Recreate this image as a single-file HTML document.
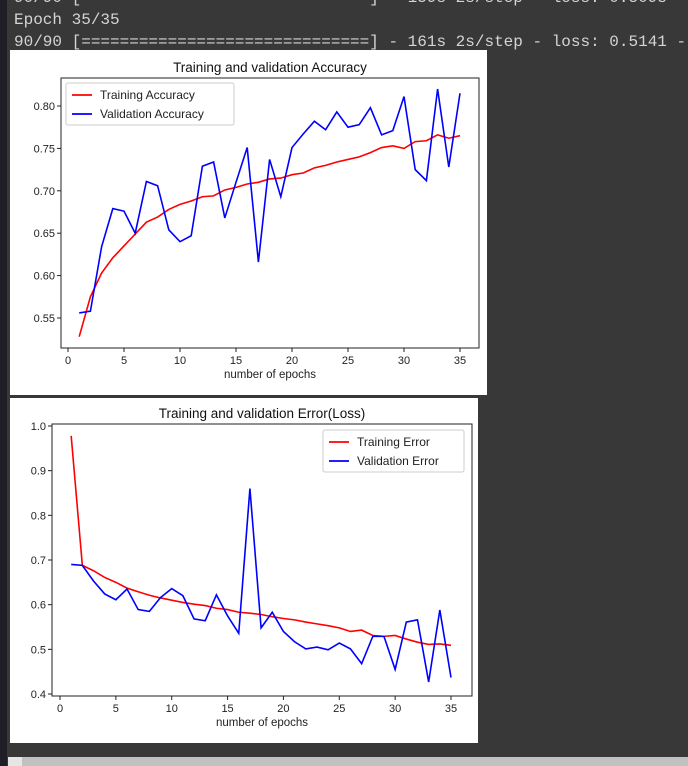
<!DOCTYPE html>
<html><head><meta charset="utf-8"><style>
html,body{margin:0;padding:0;background:#383838;width:688px;height:766px;overflow:hidden;font-family:"Liberation Sans","DejaVu Sans",sans-serif}
#term{position:absolute;left:14px;top:-13px;width:674px;overflow:hidden;font-family:"Liberation Mono",monospace;font-size:16px;color:#d4d4d4;line-height:22px;white-space:pre}
#side{position:absolute;left:0;top:0;width:7px;height:766px;background:#1f1e26}
#scroll{position:absolute;left:8px;top:757px;width:680px;height:9px;background:#c1c1c1}
#sarrow{position:absolute;left:8px;top:757px;width:14px;height:9px;background:#e6e6e6}
svg{position:absolute;left:0;top:0}
</style></head><body>
<div id="side"></div>
<div id="term">90/90 [                              ] - 159s 2s/step - loss: 0.5098
Epoch 35/35
90/90 [==============================] - 161s 2s/step - loss: 0.5141 -</div>
<div id="scroll"></div>
<div id="sarrow"></div>
<svg id="svg" width="688" height="766" xmlns="http://www.w3.org/2000/svg"></svg>
<script>
const epochs=[];for(let i=1;i<=35;i++)epochs.push(i);
const trainAcc=[0.528,0.575,0.603,0.621,0.635,0.649,0.663,0.669,0.678,0.684,0.688,0.693,0.694,0.701,0.704,0.708,0.710,0.714,0.715,0.719,0.721,0.727,0.730,0.734,0.737,0.740,0.745,0.751,0.753,0.750,0.758,0.759,0.766,0.762,0.765];
const valAcc=[0.556,0.558,0.634,0.679,0.676,0.650,0.711,0.706,0.654,0.640,0.647,0.729,0.734,0.668,0.710,0.751,0.616,0.737,0.693,0.751,0.767,0.782,0.772,0.793,0.775,0.778,0.798,0.766,0.771,0.811,0.725,0.712,0.820,0.728,0.815];
const trainErr=[0.978,0.688,0.676,0.661,0.650,0.637,0.629,0.621,0.615,0.610,0.605,0.601,0.598,0.592,0.589,0.583,0.581,0.578,0.573,0.569,0.566,0.561,0.557,0.553,0.548,0.540,0.543,0.531,0.529,0.531,0.523,0.516,0.511,0.512,0.509];
const valErr=[0.690,0.688,0.653,0.624,0.611,0.635,0.589,0.585,0.616,0.636,0.620,0.568,0.564,0.622,0.575,0.536,0.860,0.548,0.583,0.540,0.517,0.501,0.505,0.499,0.514,0.501,0.468,0.529,0.529,0.455,0.561,0.566,0.427,0.588,0.437];
const xTicks=[0,5,10,15,20,25,30,35];
const accTicks=[0.55,0.60,0.65,0.70,0.75,0.80];
const errTicks=[0.4,0.5,0.6,0.7,0.8,0.9,1.0];
const svg=document.getElementById('svg');
const NS='http://www.w3.org/2000/svg';
function mk(t,a,p){const e=document.createElementNS(NS,t);for(const k in a)e.setAttribute(k,a[k]);(p||svg).appendChild(e);return e;}
function chart(o){
  const g=mk('g',{});
  
  
  const bg=mk('rect',{x:o.px,y:o.py,width:o.pw,height:o.ph,fill:'#fff'},g);
  
  
  const X=v=>o.x0+(v-0)*(o.x35-o.x0)/35;
  const Y=v=>o.yA+(v-o.vA)*(o.yB-o.yA)/(o.vB-o.vA);
  const fr=mk('rect',{x:o.l,y:o.t,width:o.r-o.l,height:o.b-o.t,fill:'none',stroke:'#222','stroke-width':1},g);
  
  
  xTicks.forEach(v=>{
    mk('line',{x1:X(v),x2:X(v),y1:o.b,y2:o.b+4,stroke:'#222'},g);
    const t=mk('text',{x:X(v),y:o.b+16,'font-size':11,'text-anchor':'middle',fill:'#222'},g);t.textContent=v;
    
    
  });
  o.yt.forEach(v=>{
    mk('line',{x1:o.l-4,x2:o.l,y1:Y(v),y2:Y(v),stroke:'#222'},g);
    const t=mk('text',{x:o.l-6,y:Y(v)+4,'font-size':11,'text-anchor':'end',fill:'#222'},g);t.textContent=v.toFixed(o.dec);
    
    
  });
  const ti=mk('text',{x:(o.l+o.r)/2,y:o.t-6,'font-size':13.5,'text-anchor':'middle',fill:'#111'},g);ti.textContent=o.title;
  
  
  const xl=mk('text',{x:(o.l+o.r)/2,y:o.b+30,'font-size':11.5,'text-anchor':'middle',fill:'#222'},g);xl.textContent='number of epochs';
  
  
  o.series.forEach(s=>{
    const p=mk('polyline',{points:epochs.map((e,i)=>X(e)+','+Y(s.d[i])).join(' '),fill:'none',stroke:s.c,'stroke-width':1.6},g);
    
    
  });
  const lg=mk('g',{},g);
  
  
  mk('rect',{x:o.lx,y:o.ly,width:o.lw,height:42,fill:'#fff',stroke:'#ccc',rx:2},lg);
  o.series.forEach((s,i)=>{
    const yy=o.ly+12+i*19;
    mk('line',{x1:o.lx+6,x2:o.lx+26,y1:yy,y2:yy,stroke:s.c,'stroke-width':1.8},lg);
    const t=mk('text',{x:o.lx+34,y:yy+4,'font-size':12,fill:'#222'},lg);t.textContent=s.label;
    
    
  });
}
chart({name:'accuracy-chart',px:10,py:50,pw:477,ph:345,l:61,r:479,t:78,b:348,x0:68,x35:460,yA:106,vA:0.80,yB:318,vB:0.55,yt:accTicks,dec:2,
  title:'Training and validation Accuracy',lx:66,ly:83,lw:168,
  series:[{d:trainAcc,c:'#ff0000',n:'training-accuracy-line',label:'Training Accuracy'},{d:valAcc,c:'#0000ff',n:'validation-accuracy-line',label:'Validation Accuracy'}]});
chart({name:'loss-chart',px:10,py:398,pw:468,ph:345,l:52,r:472,t:424,b:696,x0:60,x35:451,yA:426,vA:1.0,yB:694,vB:0.4,yt:errTicks,dec:1,
  title:'Training and validation Error(Loss)',lx:323,ly:430,lw:141,
  series:[{d:trainErr,c:'#ff0000',n:'training-error-line',label:'Training Error'},{d:valErr,c:'#0000ff',n:'validation-error-line',label:'Validation Error'}]});
</script>
</body></html>
